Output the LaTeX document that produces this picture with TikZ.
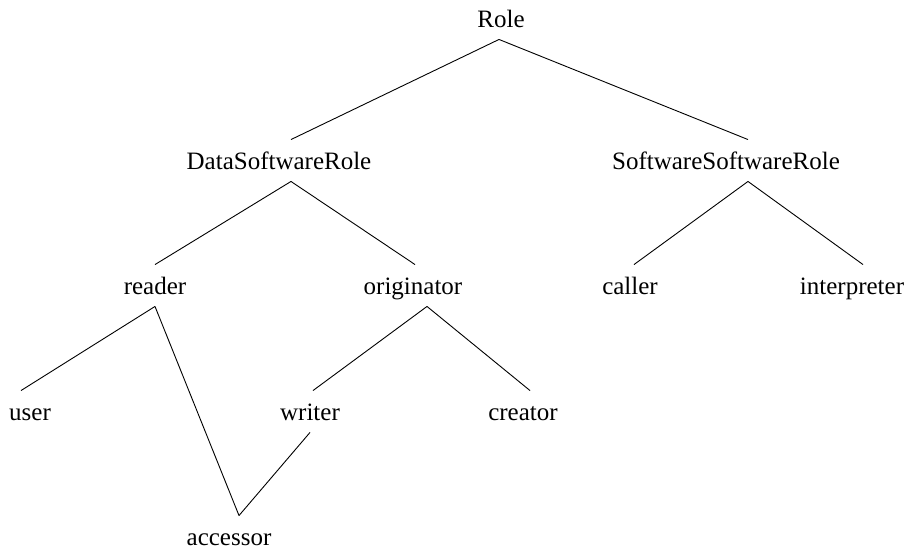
\documentclass[tikz,border=0pt]{standalone}
\usepackage{fontspec}
\setmainfont{Liberation Serif}
\usepackage{tikz}
\usetikzlibrary{positioning}

\begin{document}
\begin{tikzpicture}[
  x=1pt, y=-1pt,
  line width=0.9pt,
  lbl/.style={anchor=base, inner xsep=0pt, inner ysep=12pt,
    text height=17pt, text depth=0pt, font=\fontsize{25}{30}\selectfont}
]
  \useasboundingbox (0,0) rectangle (908,552);

  \node[lbl] (role) at (501,27) {Role};

  \node[lbl] (dsr) at (279,169) {DataSoftwareRole};
  \node[lbl] (ssr) at (726,169) {SoftwareSoftwareRole};

  \node[lbl] (reader) at (155,294) {reader};
  \node[lbl] (orig) at (413,294) {originator};
  \node[lbl] (caller) at (630,294) {caller};
  \node[lbl] (interp) at (852,294) {interpreter};

  \node[lbl] (user) at (30,420) {user};
  \node[lbl] (writer) at (310,420) {writer};
  \node[lbl] (creator) at (523,420) {creator};

  \node[lbl] (acc) at (229,545) {accessor};

  \draw ([xshift=-2pt]role.south) -- ([xshift=12pt]dsr.north);
  \draw ([xshift=-2pt]role.south) -- ([xshift=22pt]ssr.north);

  \draw ([xshift=12pt]dsr.south) -- (reader.north);
  \draw ([xshift=12pt]dsr.south) -- ([xshift=2pt]orig.north);
  \draw ([xshift=22pt]ssr.south) -- ([xshift=4pt]caller.north);
  \draw ([xshift=22pt]ssr.south) -- ([xshift=11pt]interp.north);

  \draw (reader.south) -- ([xshift=-9pt]user.north);
  \draw (reader.south) -- ([xshift=10pt]acc.north);
  \draw ([xshift=14pt]orig.south) -- ([xshift=3pt]writer.north);
  \draw ([xshift=14pt]orig.south) -- ([xshift=7pt]creator.north);

  \draw (writer.south) -- ([xshift=10pt]acc.north);
\end{tikzpicture}
\end{document}
